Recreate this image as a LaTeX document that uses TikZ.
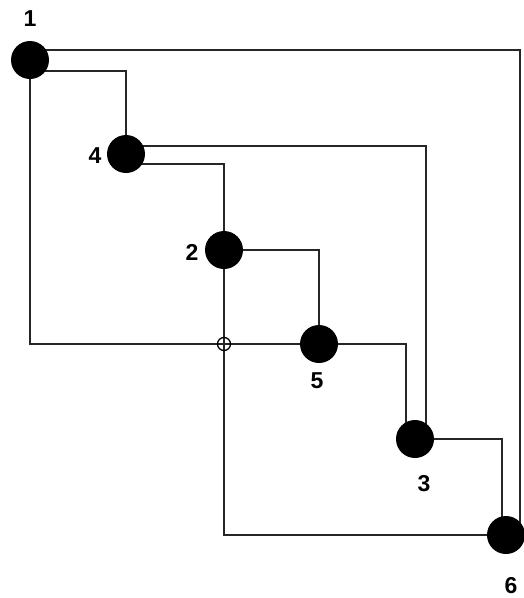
\documentclass[tikz,border=0pt]{standalone}
\usepackage{fontspec}
\setmainfont{Liberation Sans}
\usetikzlibrary{backgrounds}
\begin{document}
\begin{tikzpicture}[x=1pt,y=-1pt,
  vtx/.style={circle,fill=black,minimum size=38pt,inner sep=0pt},
  lbl/.style={font=\bfseries\fontsize{23}{23}\selectfont,inner sep=0pt},
  wire/.style={line width=1.6pt,black!85}]
\useasboundingbox (0,0) rectangle (524,598);
\node[vtx] (n1) at (30,60) {};
\node[vtx] (n4) at (126,154) {};
\node[vtx] (n2) at (224,250) {};
\node[vtx] (n5) at (319,344) {};
\node[vtx] (n3) at (415,439) {};
\node[vtx] (n6) at (506,535) {};
\node[circle,draw,line width=1.3pt,minimum size=13pt,inner sep=0pt] (x) at (224,344) {};
\node[lbl] (l1) at (30,19) {1};
\node[lbl] (l4) at (95,156) {4};
\node[lbl] (l2) at (192,252) {2};
\node[lbl] (l5) at (317,381) {5};
\node[lbl] (l3) at (424,484) {3};
\node[lbl] (l6) at (511,586) {6};
\begin{pgfonlayer}{background}
\draw[wire] ([yshift=10pt]n1.center) -| ([xshift=14pt]n6.center);
\draw[wire] ([yshift=-11pt]n1.center) -| (n4.center);
\draw[wire] (n1.center) |- (n5.center);
\draw[wire] ([yshift=8pt]n4.center) -| ([xshift=11pt]n3.center);
\draw[wire] ([yshift=-10pt]n4.center) -| (n2.center);
\draw[wire] (n2.center) -| (n5.center);
\draw[wire] (n2.center) |- (n6.center);
\draw[wire] (n5.center) -| ([xshift=-9pt]n3.center);
\draw[wire] (n3.center) -| ([xshift=-4pt]n6.center);
\end{pgfonlayer}
\end{tikzpicture}
\end{document}
